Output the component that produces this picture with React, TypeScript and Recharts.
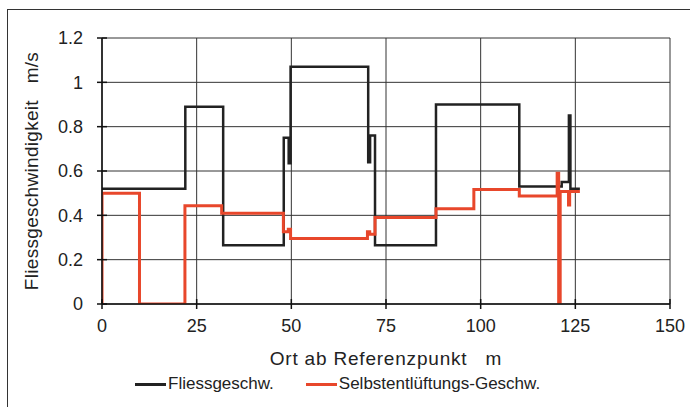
import React from 'react';
import { LineChart, Line, XAxis, YAxis, CartesianGrid, Legend } from 'recharts';

const xTicks = [0, 25, 50, 75, 100, 125, 150];
const yTicks = [0, 0.2, 0.4, 0.6, 0.8, 1, 1.2];

const flowX = [0, 22, 22, 32, 32, 48, 48, 49.3, 49.3, 49.8, 49.8, 70.3, 70.3, 70.8, 70.8, 72.1, 72.1, 88.2, 88.2, 110.2, 110.2, 121.4, 121.4, 123.3, 123.3, 123.7, 123.7, 126.2];
const flowY = [0.52, 0.52, 0.89, 0.89, 0.265, 0.265, 0.75, 0.75, 0.635, 0.635, 1.07, 1.07, 0.64, 0.64, 0.76, 0.76, 0.265, 0.265, 0.9, 0.9, 0.53, 0.53, 0.55, 0.55, 0.85, 0.85, 0.52, 0.52];

const ventX = [0, 0, 9.9, 9.9, 21.9, 21.9, 31.6, 31.6, 47.9, 47.9, 49.2, 49.2, 49.8, 49.8, 70.1, 70.1, 70.7, 70.7, 72.1, 72.1, 88.2, 88.2, 98.2, 98.2, 110.2, 110.2, 120.2, 120.2, 120.6, 120.6, 121.0, 121.0, 123.2, 123.2, 123.5, 123.5, 126.2];
const ventY = [0, 0.5, 0.5, 0, 0, 0.443, 0.443, 0.409, 0.409, 0.326, 0.326, 0.337, 0.337, 0.296, 0.296, 0.326, 0.326, 0.315, 0.315, 0.39, 0.39, 0.43, 0.43, 0.517, 0.517, 0.487, 0.487, 0.59, 0.59, 0, 0, 0.507, 0.507, 0.447, 0.447, 0.507, 0.507];

const flowData = flowX.map((x, i) => ({ x, v: flowY[i] }));
const ventData = ventX.map((x, i) => ({ x, v: ventY[i] }));

const BLACK = '#222222';
const RED = '#e8472b';
const FONT = '"Liberation Sans", Arial, sans-serif';
const SP = '\u00A0\u00A0\u00A0';

const X_MARGIN = 10;
const Y_MARGIN = 14;
const TICK = 5;

const XTick = (props: any) => {
  const { x, y, payload } = props;
  const ay = y - TICK - X_MARGIN;
  return (
    <g>
      <line x1={x} x2={x} y1={ay - TICK} y2={ay + TICK} stroke="#111" strokeWidth={1.5} />
      <text x={x} y={y} dy="0.71em" textAnchor="middle" fill="#222" fontSize={18} fontFamily={FONT}>{String(payload.value)}</text>
    </g>
  );
};

const YTick = (props: any) => {
  const { x, y, payload } = props;
  const ax = x + TICK + Y_MARGIN;
  return (
    <g>
      <line x1={ax - TICK} x2={ax + TICK} y1={y} y2={y} stroke="#111" strokeWidth={1.5} />
      <text x={x} y={y} dy="0.355em" textAnchor="end" fill="#222" fontSize={18} fontFamily={FONT}>{String(payload.value)}</text>
    </g>
  );
};

const LegendContent = () => (
  <div style={{ height: 30, display: 'flex', alignItems: 'center', justifyContent: 'flex-start', fontFamily: FONT, fontSize: 17, color: '#222', paddingLeft: 135 }}>
    <span style={{ display: 'inline-block', width: 31, height: 3, background: BLACK, marginRight: 2 }} />
    <span>Fliessgeschw.</span>
    <span style={{ display: 'inline-block', width: 31, height: 3, background: RED, marginLeft: 32, marginRight: 2 }} />
    <span>Selbstentlüftungs-Geschw.</span>
  </div>
);

export default function App() {
  return (
    <div style={{ position: 'absolute', left: 0, top: 0, width: 690, height: 407, overflow: 'hidden', background: '#fff' }}>
      <div style={{ position: 'absolute', left: 7, top: 9, width: 700, height: 430, border: '1.5px solid #333', boxSizing: 'border-box' }} />
      <div style={{ position: 'absolute', left: 0, top: 0 }}>
        <LineChart width={690} height={407} margin={{ top: 38, right: 20, bottom: 8, left: 0 }}>
          <CartesianGrid stroke="#333" strokeWidth={1} />
          <XAxis
            type="number"
            dataKey="x"
            domain={[0, 150]}
            ticks={xTicks}
            height={65}
            allowDataOverflow
            stroke="#111"
            strokeWidth={1.5}
            tickSize={TICK}
            tickMargin={X_MARGIN}
            tickLine={false}
            tick={<XTick />}
            label={{ value: `Ort ab Referenzpunkt${SP}m`, position: 'insideBottom', offset: 4, fill: '#222', fontSize: 19, fontFamily: FONT, letterSpacing: 0.8 }}
          />
          <YAxis
            type="number"
            domain={[0, 1.2]}
            ticks={yTicks}
            width={102}
            allowDataOverflow
            stroke="#111"
            strokeWidth={1.5}
            tickSize={TICK}
            tickMargin={Y_MARGIN}
            tickLine={false}
            tick={<YTick />}
            label={{ value: `Fliessgeschwindigkeit${SP}m/s`, angle: -90, position: 'insideLeft', offset: 31, fill: '#222', fontSize: 19, fontFamily: FONT, letterSpacing: 0.3, style: { textAnchor: 'middle' } }}
          />
          <Legend verticalAlign="bottom" content={<LegendContent />} />
          <Line data={flowData} dataKey="v" type="linear" stroke={BLACK} strokeWidth={2.5} dot={false} isAnimationActive={false} name="Fliessgeschw." />
          <Line data={ventData} dataKey="v" type="linear" stroke={RED} strokeWidth={3} dot={false} isAnimationActive={false} name="Selbstentlüftungs-Geschw." />
        </LineChart>
      </div>
    </div>
  );
}
